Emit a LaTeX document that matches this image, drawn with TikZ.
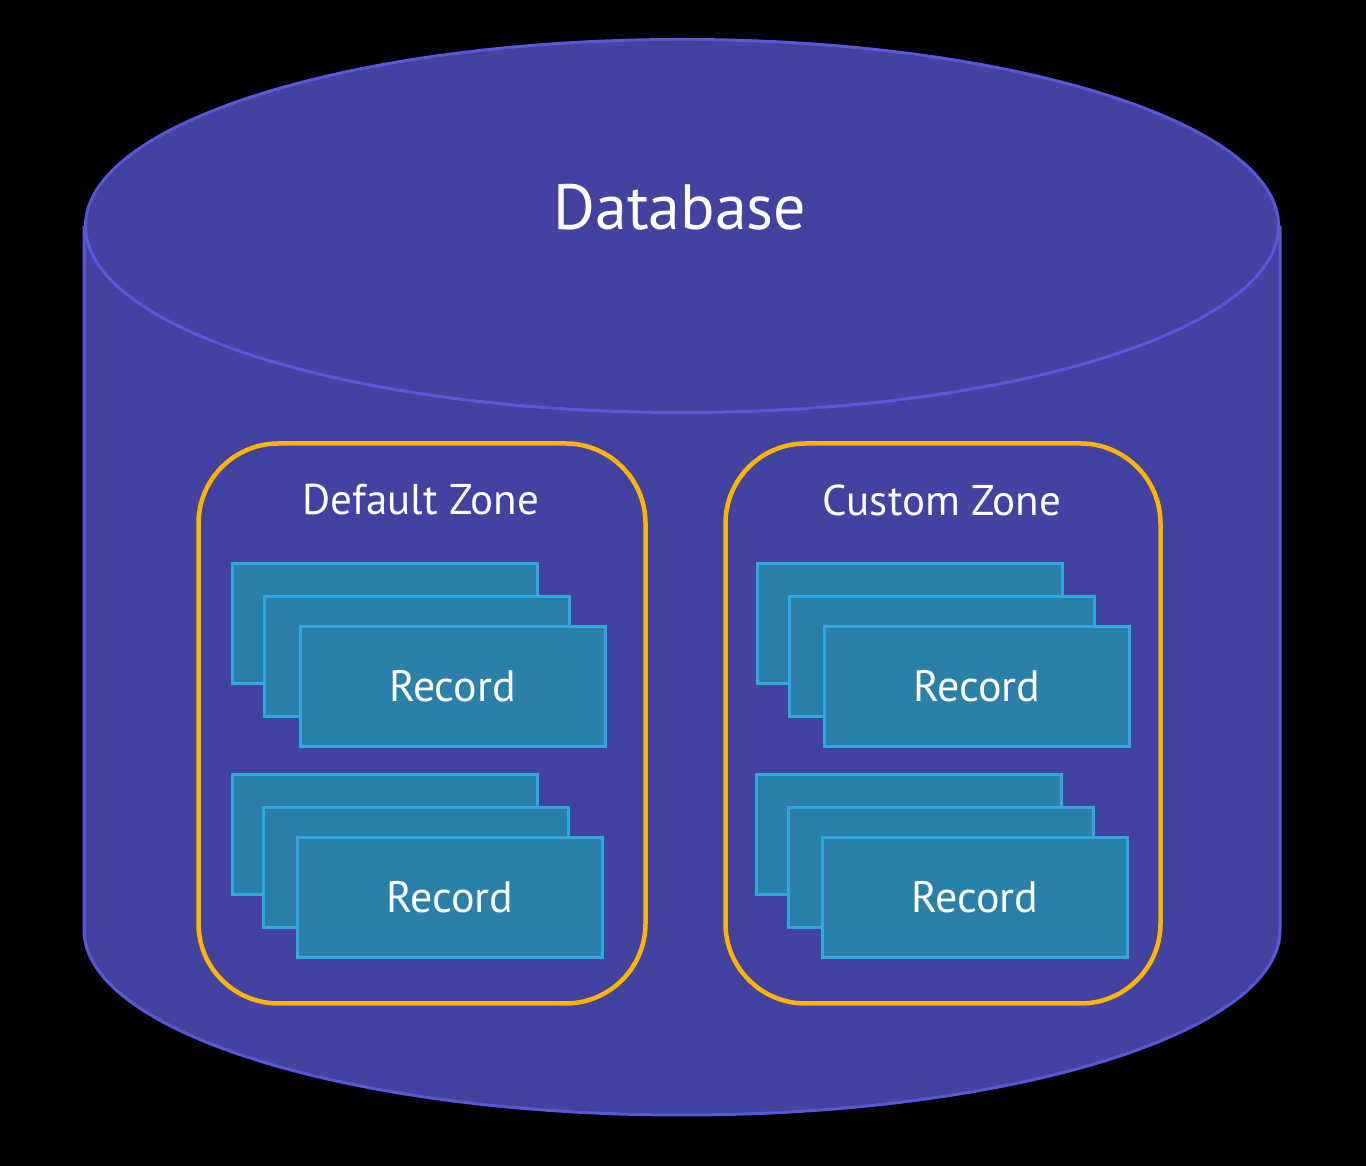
\documentclass[tikz,border=0pt]{standalone}
\usepackage{fontspec}
\setmainfont{PT Sans}
\usetikzlibrary{shapes.geometric,positioning}
\definecolor{dbfill}{RGB}{66, 66, 160}
\definecolor{dbline}{RGB}{88, 88, 216}
\definecolor{zoneline}{RGB}{255, 180, 0}
\definecolor{recfill}{RGB}{42, 128, 168}
\definecolor{recline}{RGB}{48, 168, 224}
\tikzset{
  zonebox/.style={draw=zoneline, line width=4.5pt, rounded corners=80pt, minimum height=560pt},
  recbox/.style={draw=recline, fill=recfill, line width=3pt, minimum width=305pt, minimum height=120pt, text=white, font=\fontsize{44}{52}\selectfont},
  zonelabel/.style={text=white, font=\fontsize{43}{52}\selectfont}
}

\begin{document}
\begin{tikzpicture}[x=1pt, y=1pt]
    % Background
    \fill[black] (0,0) rectangle (1366,1166);
    \useasboundingbox (0,0) rectangle (1366,1166);

    % Database cylinder
    \filldraw[fill=dbfill, draw=dbline, line width=3pt]
        (84,940) -- (84,236) arc[start angle=180, end angle=360, x radius=598, y radius=185] -- (1280,940);
    \node[draw=dbline, fill=dbfill, line width=3pt, ellipse, minimum width=1193pt, minimum height=373pt] (dbtop) at (682,940) {};
    \node[text=white, font=\fontsize{64}{74}\selectfont] (dblabel) at (680,959) {Database};

    % Default zone
    \node[zonebox, minimum width=447pt] (defzone) at (422,442.5) {};
    \node[zonelabel] (deflabel) at (421,666) {Default Zone};
    \node[recbox] (defa1) at (385,542) {};
    \node[recbox] (defa2) at (417,509.5) {};
    \node[recbox] (defa3) at (452.5,479.5) {Record};
    \node[recbox] (defb1) at (384.5,331.5) {};
    \node[recbox] (defb2) at (416,298.5) {};
    \node[recbox] (defb3) at (450,268.5) {Record};

    % Custom zone
    \node[zonebox, minimum width=435pt] (cuszone) at (943,442.5) {};
    \node[zonelabel] (cuslabel) at (942,666) {Custom Zone};
    \node[recbox] (cusa1) at (910,542) {};
    \node[recbox] (cusa2) at (942,509.5) {};
    \node[recbox] (cusa3) at (977,479.5) {Record};
    \node[recbox] (cusb1) at (908.5,331.5) {};
    \node[recbox] (cusb2) at (941,298.5) {};
    \node[recbox] (cusb3) at (975,268.5) {Record};
\end{tikzpicture}
\end{document}
